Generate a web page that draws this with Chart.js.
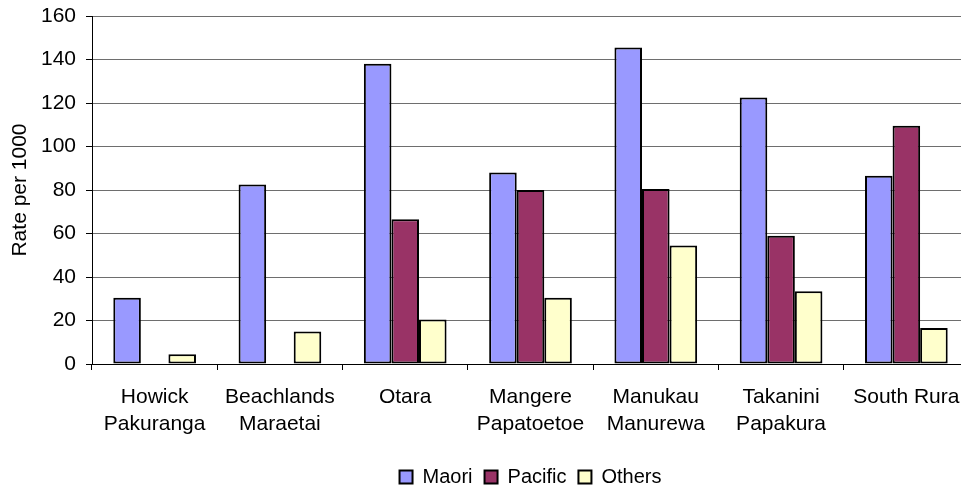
<!DOCTYPE html>
<html>
<head>
<meta charset="utf-8">
<script src="https://cdn.jsdelivr.net/npm/chart.js@4/dist/chart.umd.min.js"></script>
<style>
  html, body { margin: 0; padding: 0; background: #fff; overflow: hidden; }
  #wrap { width: 961px; height: 487px; overflow: hidden; }
</style>
</head>
<body>
<div id="wrap"><canvas id="rateChart" width="1060" height="497"></canvas></div>
<script>

// areas (two-line labels as shown under the axis)
const areas = [
  ["Howick", "Pakuranga"],
  ["Beachlands", "Maraetai"],
  ["Otara"],
  ["Mangere", "Papatoetoe"],
  ["Manukau", "Manurewa"],
  ["Takanini", "Papakura"],
  ["South Rura"]
];

// rate per 1000
const maori   = [30.5, 82.5, 138, 88, 145.5, 122.5, 86.5];
const pacific = [null, null, 66.5, 80, 80.5, 59, 109.5];
const others  = [4.5, 15, 20.5, 30.5, 54.5, 33.5, 16.5];

const yTicks = [0, 20, 40, 60, 80, 100, 120, 140, 160];

const font = { family: "'Liberation Sans', Arial, sans-serif", size: 21 };

function bars(label, data, colour) {
  return {
    label: label,
    data: data,
    backgroundColor: colour,
    borderColor: '#000',
    borderWidth: 2,
    borderSkipped: false,
    categoryPercentage: 0.66,
    barPercentage: 1.0
  };
}

// excel centres the legend under the plot area, not the whole canvas
const legendShift = {
  id: 'legendShift',
  afterLayout(chart) {
    const area = chart.chartArea;
    const lg = chart.legend;
    const dx = (area.left + area.right) / 2 - (lg.left + lg.right) / 2;
    lg.left += dx;
    lg.right += dx;
  }
};

const ctx = document.getElementById('rateChart').getContext('2d');
const rateChart = new Chart(ctx, {
  type: 'bar',
  data: {
    labels: areas,
    datasets: [
      bars('Maori', maori, '#9999FF'),
      bars('Pacific', pacific, '#993366'),
      bars('Others', others, '#FFFFCC')
    ]
  },
  plugins: [legendShift],
  options: {
    responsive: false,
    devicePixelRatio: 1,
    animation: false,
    layout: {
      padding: { left: 0, right: 91, top: 16, bottom: 0 }
    },
    plugins: {
      tooltip: { enabled: false },
      legend: {
        position: 'bottom',
        labels: {
          color: '#000',
          font: { family: font.family, size: 20 },
          boxWidth: 13,
          boxHeight: 13,
          padding: 12
        }
      }
    },
    scales: {
      x: {
        grid: {
          offset: true,
          drawOnChartArea: false,
          drawTicks: true,
          tickLength: 6,
          color: '#000'
        },
        border: { color: '#000', width: 1 },
        ticks: {
          color: '#000',
          font: Object.assign({ lineHeight: 1.27 }, font),
          padding: 14,
          autoSkip: false,
          maxRotation: 0
        },
        afterFit: function(scale) { scale.height = 91; }
      },
      y: {
        min: 0,
        max: 160,
        afterBuildTicks: function(scale) {
          scale.ticks = yTicks.map(v => ({ value: v }));
        },
        grid: {
          color: '#6e6e6e',
          tickLength: 6,
          tickColor: '#000'
        },
        border: { color: '#000', width: 1 },
        ticks: {
          color: '#000',
          font: font,
          padding: 10
        },
        title: {
          display: true,
          text: 'Rate per 1000',
          color: '#000',
          font: font,
          padding: { top: 8, bottom: 0 }
        },
        afterFit: function(scale) {
          scale.width = 92;
          scale.paddingTop = 0;
        }
      }
    }
  }
});
</script>
</body>
</html>
